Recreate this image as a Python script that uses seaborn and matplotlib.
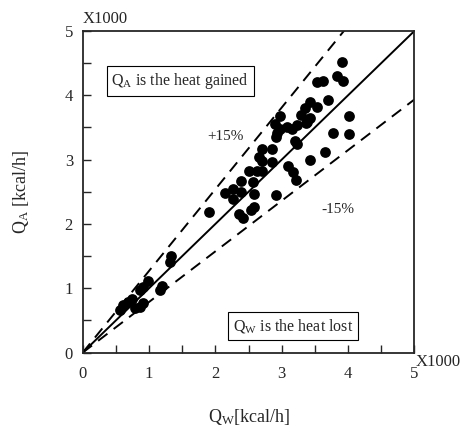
import matplotlib
matplotlib.use("Agg")
import matplotlib.pyplot as plt
import seaborn as sns
import pandas as pd
import numpy as np
from matplotlib.ticker import MultipleLocator

# Measured (Q_W) vs calculated (Q_A) heat, in units of 1000 kcal/h
q_w = [3.91, 3.83, 3.92, 3.53, 3.62, 3.69, 3.43, 3.53, 3.35, 2.97,
       3.29, 3.43, 2.90, 2.98, 3.08, 3.15, 3.23, 3.37, 4.02, 3.78,
       4.02, 2.92, 3.20, 3.23, 2.70, 2.85, 3.65, 2.66, 2.70, 2.85,
       3.42, 2.51, 2.62, 2.70, 3.10, 3.17, 3.22, 2.38, 2.57, 2.27,
       2.39, 2.27, 2.14, 2.58, 2.92, 1.91, 2.36, 2.41, 2.53, 2.58,
       1.33, 1.32, 0.99, 0.91, 0.86, 1.17, 1.19, 0.74, 0.69, 0.61,
       0.56, 0.91, 0.86, 0.79, 3.38, 2.93]
q_a = [4.52, 4.30, 4.22, 4.21, 4.22, 3.92, 3.90, 3.82, 3.81, 3.68,
       3.69, 3.64, 3.56, 3.48, 3.51, 3.48, 3.54, 3.57, 3.68, 3.42,
       3.40, 3.35, 3.29, 3.25, 3.17, 3.17, 3.12, 3.04, 2.98, 2.96,
       2.99, 2.82, 2.83, 2.83, 2.90, 2.80, 2.68, 2.66, 2.65, 2.55,
       2.49, 2.38, 2.48, 2.46, 2.45, 2.18, 2.15, 2.09, 2.22, 2.27,
       1.50, 1.41, 1.11, 1.02, 0.97, 0.97, 1.03, 0.84, 0.79, 0.74,
       0.66, 0.77, 0.71, 0.69, 3.59, 3.41]

axis_max = 5
upper_slope = 1.27
lower_slope = 0.787

df = pd.DataFrame({"Q_W": q_w, "Q_A": q_a})

sns.set_style("ticks")
plt.rcParams['font.family'] = ['Liberation Serif', 'DejaVu Serif']
plt.rcParams['mathtext.fontset'] = 'custom'
plt.rcParams['mathtext.rm'] = 'Liberation Serif'
plt.rcParams['mathtext.it'] = 'Liberation Serif:italic'

fig = plt.figure(figsize=(4.62, 4.30), dpi=100)
ax = fig.add_axes([0.179, 0.180, 0.718, 0.748])

# parity line and +/-15% bands
xs = np.array([0, axis_max])
ax.plot(xs, xs, color='black', lw=1.4)
ax.plot(xs, upper_slope * xs, color='black', lw=1.4, ls=(0, (6, 4)))
ax.plot(xs, lower_slope * xs, color='black', lw=1.4, ls=(0, (6, 4)))

sns.scatterplot(data=df, x="Q_W", y="Q_A", color='black', s=60,
                edgecolor='black', linewidth=0, ax=ax, zorder=3)

ax.set_xlim(0, axis_max)
ax.set_ylim(0, axis_max)
ax.xaxis.set_major_locator(MultipleLocator(1))
ax.yaxis.set_major_locator(MultipleLocator(1))
ax.xaxis.set_minor_locator(MultipleLocator(0.5))
ax.yaxis.set_minor_locator(MultipleLocator(0.5))
ax.tick_params(which='both', direction='in', length=6, width=1,
               labelsize=12, top=False, right=False)
ax.tick_params(axis='x', pad=10)
ax.tick_params(axis='y', pad=7)
for sp in ax.spines.values():
    sp.set_linewidth(1.3)

ax.set_xlabel(r'$\mathregular{Q_W}$[kcal/h]', fontsize=13, labelpad=18)
ax.set_ylabel(r'$\mathregular{Q_A}$ [kcal/h]', fontsize=13, labelpad=24)

ax.text(0.0, 1.012, 'X1000', transform=ax.transAxes, fontsize=12,
        ha='left', va='bottom')
ax.text(1.005, -0.005, 'X1000', transform=ax.transAxes, fontsize=12,
        ha='left', va='top')

box = dict(boxstyle='square,pad=0.3', facecolor='white', edgecolor='black', lw=0.8)
ax.text(1.47, 4.22, r'$\mathregular{Q_A}$ is the heat gained', fontsize=11.5,
        ha='center', va='center', bbox=box)
ax.text(3.17, 0.41, r'$\mathregular{Q_W}$ is the heat lost', fontsize=11.5,
        ha='center', va='center', bbox=box)
ax.text(2.15, 3.36, '+15%', fontsize=11, ha='center', va='center')
ax.text(3.84, 2.23, '-15%', fontsize=11, ha='center', va='center')

fig.savefig('out.png', dpi=100)
